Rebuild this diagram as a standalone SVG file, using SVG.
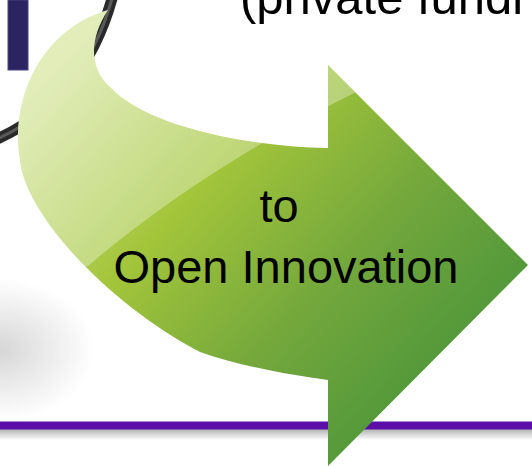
<svg xmlns="http://www.w3.org/2000/svg" width="532" height="466" viewBox="0 0 532 466">
  <defs>
    <linearGradient id="arrowFill" gradientUnits="userSpaceOnUse" x1="80" y1="40" x2="470" y2="400">
      <stop offset="0" stop-color="#d4e59a"/>
      <stop offset="0.35" stop-color="#a3c53a"/>
      <stop offset="0.65" stop-color="#74a83c"/>
      <stop offset="1" stop-color="#48933a"/>
    </linearGradient>
    <radialGradient id="blob" cx="0" cy="350" r="95" gradientUnits="userSpaceOnUse" gradientTransform="translate(0 350) scale(1 0.75) translate(0 -350)">
      <stop offset="0" stop-color="#d6d6d6"/>
      <stop offset="0.5" stop-color="#ebebeb"/>
      <stop offset="1" stop-color="#ffffff"/>
    </radialGradient>
    <linearGradient id="lineShadow" x1="0" y1="0" x2="0" y2="1">
      <stop offset="0" stop-color="#b0b0b0"/>
      <stop offset="1" stop-color="#ffffff"/>
    </linearGradient>
    <clipPath id="arrowClip">
      <path d="M108,10 C40,30 10,100 20,160 C25,215 110,305 200,352 C240,366 290,375 328,380 L328,466 L528,265 L328,65 L328,148 C240,146 145,125 110,87 C90,70 88,40 108,10 Z"/>
    </clipPath>
  </defs>
  <style>
    .lbl { font-family: "Liberation Sans", Arial, sans-serif; fill: #000000; }
  </style>
  <rect x="0" y="0" width="532" height="466" fill="#ffffff"/>

  <g id="background">
    <rect x="0" y="260" width="200" height="180" fill="url(#blob)"/>
    <rect x="8" y="0" width="20" height="70" fill="#2b2461" stroke="#4a4382" stroke-width="1"/>
    <path d="M113,-5 Q85,100 -5,140" fill="none" stroke="#2a2a2a" stroke-width="11"/>
    <path d="M113,-5 Q85,100 -5,140" fill="none" stroke="#5a5a5a" stroke-width="3"/>
    <rect x="0" y="429" width="532" height="11" fill="url(#lineShadow)"/>
    <rect x="0" y="421.5" width="532" height="8" fill="#5c0fa8"/>
  </g>

  <g id="arrow">
    <path d="M108,10 C40,30 10,100 20,160 C25,215 110,305 200,352 C240,366 290,375 328,380 L328,466 L528,265 L328,65 L328,148 C240,146 145,125 110,87 C90,70 88,40 108,10 Z" fill="url(#arrowFill)"/>
    <path clip-path="url(#arrowClip)" d="M362,89 Q200,170 88,266 L0,300 L0,0 L532,0 Z" fill="#ffffff" fill-opacity="0.32"/>
  </g>

  <g id="labels">
    <text class="lbl" x="240" y="14" font-size="49">(private fundi</text>
    <text class="lbl" x="279" y="222" font-size="47" text-anchor="middle">to</text>
    <text class="lbl" x="286" y="283" font-size="47" text-anchor="middle">Open Innovation</text>
  </g>
</svg>
